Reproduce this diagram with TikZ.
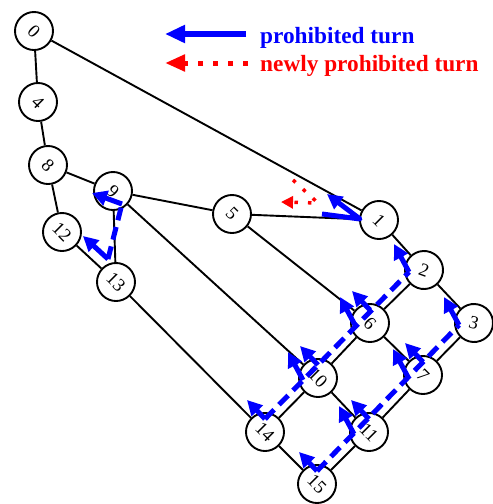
\documentclass[tikz,border=0pt]{standalone}
\usepackage{fontspec}
\setmainfont{Liberation Serif}
\usetikzlibrary{calc,arrows.meta}
\begin{document}
\begin{tikzpicture}[x=1pt,y=-1pt,
  vert/.style={circle,draw,line width=1.9pt,fill=white,minimum size=38pt,inner sep=0pt,rotate=-45,font=\fontsize{18.5}{18.5}\selectfont},
  edge/.style={line width=1.9pt},
  colline/.style={blue,line width=5pt,dash pattern=on 13pt off 7pt},
  turnarm/.style={blue,line width=5pt,-{Triangle[length=15pt,width=15pt]}},
  turnsolid/.style={blue,line width=5pt,line join=round,-{Triangle[length=15pt,width=15pt]}},
  newturn/.style={red,line width=3.5pt,dash pattern=on 3.5pt off 10pt,-{Triangle[length=12pt,width=12pt]}},
  legtext/.style={anchor=base west,inner sep=0pt,font=\bfseries\fontsize{23.3}{28}\selectfont}
]
\useasboundingbox (0,0) rectangle (493,504);

% nodes
\node[vert] (n0) at (34,31) {0};
\node[vert] (n4) at (38,102) {4};
\node[vert] (n8) at (48,165) {8};
\node[vert] (n9) at (113,191) {9};
\node[vert] (n12) at (62,232) {12};
\node[vert] (n13) at (116,282) {13};
\node[vert] (n5) at (232,214) {5};
\node[vert] (n1) at (379,220) {1};
\node[vert,rotate=25] (n2) at (424,270) {2};
\node[vert,rotate=30] (n3) at (474,323) {3};
\node[vert] (n6) at (370,323) {6};
\node[vert] (n7) at (423,375) {7};
\node[vert] (n10) at (318,378) {10};
\node[vert] (n11) at (369,432) {11};
\node[vert] (n14) at (265,432) {14};
\node[vert] (n15) at (317,484) {15};

% edges
\draw[edge] (n0)--(n4) (n4)--(n8) (n8)--(n12) (n0)--(n1) (n8)--(n9)
  (n9)--(n5) (n5)--(n1) (n9)--(n13) (n12)--(n13) (n9)--(n10) (n5)--(n6)
  (n13)--(n14) (n1)--(n2) (n2)--(n3) (n2)--(n6) (n3)--(n7) (n6)--(n7)
  (n6)--(n10) (n7)--(n11) (n10)--(n11) (n10)--(n14) (n11)--(n15) (n14)--(n15);

% prohibited turns: column lines
\draw[colline] ($(n15)+(0,-13)$) -- ($(n3)+(-15,2)$);
\draw[colline] ($(n14)+(0,-13)$) -- ($(n2)+(-15,2)$);
\draw[colline] ($(n13)+(-8,-23)$) -- ($(n9)+(9,13)$);
% south-to-west arms
\foreach \n in {n15,n11,n7,n14,n10,n6}
  \draw[turnarm] ($(\n)+(0,-13)$) -- ($(\n)+(-18,-32)$);
% north-to-west arms
\foreach \n in {n11,n7,n3,n10,n6,n2}
  \draw[turnarm] ($(\n)+(-15,2)$) -- ($(\n)+(-30,-26)$);
% column of 13 and 9
\draw[turnarm] ($(n9)+(9,13)$) -- ($(n9)+(-21,2)$);
\draw[turnarm] ($(n13)+(-8,-23)$) -- ($(n13)+(-33,-46)$);
% turn at 1
\draw[turnsolid] ($(n1)+(-57,-6)$) -- ($(n1)+(-19,-1)$) -- ($(n1)+(-52,-26)$);
% newly prohibited turn
\draw[newturn] ($(n1)+(-86,-40)$) -- ($(n1)+(-61,-17)$) -- ($(n1)+(-98,-18)$);

% legend
\coordinate (la1) at (246,34);
\coordinate (lb1) at (165,34);
\coordinate (la2) at (248,63);
\coordinate (lb2) at (165,63);
\draw[blue,line width=6.5pt,-{Triangle[length=20pt,width=17pt]}] (la1) -- (lb1);
\draw[red,line width=5pt,dash pattern=on 5pt off 10pt,-{Triangle[length=20pt,width=16pt]}] (la2) -- (lb2);
\node[legtext,text=blue] (lt1) at (260,43) {prohibited turn};
\node[legtext,text=red] (lt2) at (260,71) {newly prohibited turn};
\end{tikzpicture}
\end{document}
